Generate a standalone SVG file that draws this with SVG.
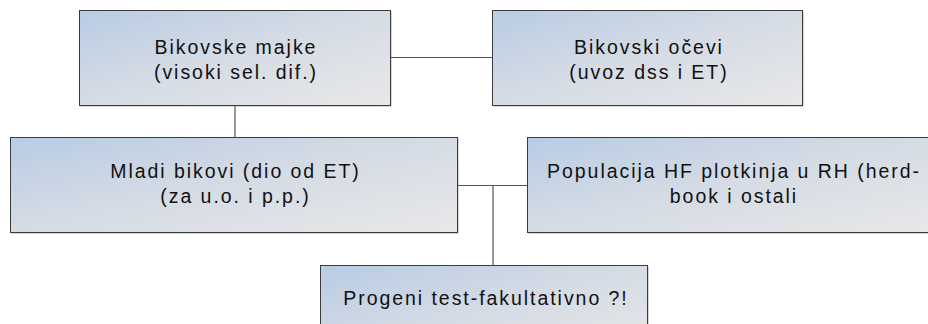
<svg xmlns="http://www.w3.org/2000/svg" width="928" height="324" viewBox="0 0 928 324">
<defs>
<linearGradient id="g" x1="0" y1="0" x2="1" y2="1">
<stop offset="0" stop-color="#b8cce4"/>
<stop offset="0.5" stop-color="#d6dce5"/>
<stop offset="1" stop-color="#e8e8e8"/>
</linearGradient>
<style>
.box{fill:url(#g);stroke:#3c3c3c;stroke-width:1}
.sh{fill:#7a7a7a;opacity:0.6}
.t{font-family:"Liberation Sans",Arial,sans-serif;font-size:19.5px;letter-spacing:1.95px;fill:#111;text-anchor:middle}
.c{stroke:#555;stroke-width:1.2;fill:none}
</style>
</defs>
<rect width="928" height="324" fill="#fff"/>
<g id="connectors">
<line class="c" x1="390" y1="57.5" x2="493" y2="57.5"/>
<line class="c" x1="235" y1="105" x2="235" y2="137"/>
<line class="c" x1="458" y1="185.5" x2="527" y2="185.5"/>
<line class="c" x1="493" y1="185.5" x2="493" y2="265"/>
</g>
<g id="bikovske-majke">
<rect class="sh" x="80.5" y="11.5" width="311" height="95"/>
<rect class="box" x="79.5" y="10.5" width="311" height="95"/>
<text class="t" x="236" y="53.5">Bikovske majke</text>
<text class="t" x="236" y="78.5">(visoki sel. dif.)</text>
</g>
<g id="bikovski-ocevi">
<rect class="sh" x="493.5" y="11.5" width="310" height="95"/>
<rect class="box" x="492.5" y="10.5" width="310" height="95"/>
<text class="t" x="649" y="53.5">Bikovski očevi</text>
<text class="t" x="649" y="78.5">(uvoz dss i ET)</text>
</g>
<g id="mladi-bikovi">
<rect class="sh" x="11.5" y="138.5" width="447" height="95"/>
<rect class="box" x="10.5" y="137.5" width="447" height="95"/>
<text class="t" x="235.5" y="177.5">Mladi bikovi (dio od ET)</text>
<text class="t" x="235.5" y="203">(za u.o. i p.p.)</text>
</g>
<g id="populacija">
<rect class="sh" x="528.5" y="138.5" width="412" height="95"/>
<rect class="box" x="527.5" y="137.5" width="412" height="95"/>
<text class="t" x="734" y="177.5">Populacija HF plotkinja u RH (herd-</text>
<text class="t" x="734" y="203">book i ostali</text>
</g>
<g id="progeni-test">
<rect class="sh" x="321.5" y="266.5" width="327" height="95"/>
<rect class="box" x="320.5" y="265.5" width="327" height="95"/>
<text class="t" x="486" y="304.5">Progeni test-fakultativno ?!</text>
</g>
</svg>
